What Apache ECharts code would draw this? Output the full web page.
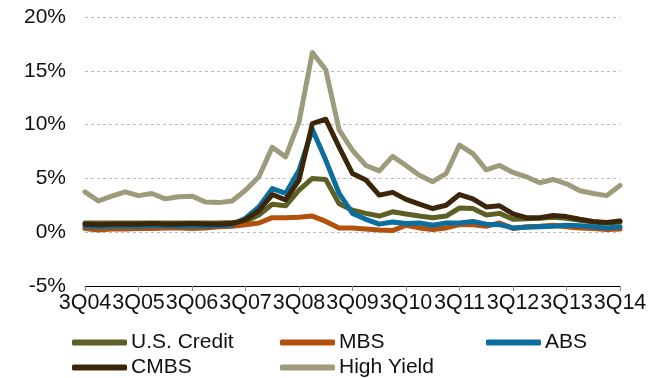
<!DOCTYPE html>
<html>
<head>
<meta charset="utf-8">
<script src="https://cdn.jsdelivr.net/npm/echarts@6/dist/echarts.min.js"></script>
<style>
  html, body { margin: 0; padding: 0; background: #fff; }
  #chart { width: 657px; height: 378px; }
</style>
</head>
<body>
<div id="chart"></div>
<script>
// quarters 3Q04 .. 3Q14
var quarters = [
  "3Q04", "4Q04", "1Q05", "2Q05", "3Q05", "4Q05", "1Q06", "2Q06", "3Q06", "4Q06",
  "1Q07", "2Q07", "3Q07", "4Q07", "1Q08", "2Q08", "3Q08", "4Q08", "1Q09", "2Q09",
  "3Q09", "4Q09", "1Q10", "2Q10", "3Q10", "4Q10", "1Q11", "2Q11", "3Q11", "4Q11",
  "1Q12", "2Q12", "3Q12", "4Q12", "1Q13", "2Q13", "3Q13", "4Q13", "1Q14", "2Q14",
  "3Q14"
];
var yTicks = [-5, 0, 5, 10, 15, 20];

var usCredit = [
  0.85, 0.85, 0.85, 0.85, 0.85, 0.85, 0.85, 0.85, 0.85, 0.85,
  0.85, 0.9, 1.0, 1.6, 2.6, 2.45, 3.9, 5.0, 4.9, 2.65,
  2.05, 1.75, 1.5, 1.9, 1.7, 1.5, 1.35, 1.5, 2.25, 2.2,
  1.6, 1.75, 1.2, 1.25, 1.3, 1.4, 1.3, 1.1, 0.95, 0.85,
  0.95
];
var mbs = [
  0.35, 0.2, 0.3, 0.3, 0.35, 0.35, 0.4, 0.4, 0.35, 0.4,
  0.5, 0.55, 0.7, 0.85, 1.35, 1.35, 1.4, 1.5, 1.0, 0.4,
  0.4, 0.3, 0.2, 0.15, 0.65, 0.4, 0.25, 0.4, 0.7, 0.7,
  0.55, 0.85, 0.35, 0.5, 0.55, 0.65, 0.5, 0.4, 0.35, 0.25,
  0.3
];
var abs = [
  0.55, 0.5, 0.55, 0.55, 0.55, 0.6, 0.6, 0.55, 0.6, 0.55,
  0.6, 0.7, 1.3, 2.35, 4.05, 3.6, 5.75, 9.55, 6.7, 3.6,
  1.75, 1.2, 0.75, 0.95, 0.8, 0.85, 0.65, 0.85, 0.85, 1.0,
  0.75, 0.7, 0.4, 0.45, 0.5, 0.55, 0.65, 0.6, 0.5, 0.4,
  0.5
];
var cmbs = [
  0.75, 0.7, 0.75, 0.75, 0.75, 0.8, 0.75, 0.75, 0.8, 0.75,
  0.75, 0.8, 1.15, 2.0, 3.5, 3.0, 4.85, 10.1, 10.5, 7.9,
  5.45, 4.85, 3.45, 3.7, 3.05, 2.6, 2.2, 2.5, 3.5, 3.1,
  2.35, 2.45, 1.7, 1.35, 1.35, 1.55, 1.45, 1.2, 1.0, 0.9,
  1.05
];
var highYield = [
  3.75, 2.9, 3.35, 3.75, 3.4, 3.6, 3.1, 3.3, 3.35, 2.8,
  2.75, 2.9, 3.9, 5.15, 7.9, 7.0, 10.25, 16.7, 15.1, 9.5,
  7.6, 6.2, 5.7, 7.05, 6.2, 5.3, 4.7, 5.45, 8.1, 7.3,
  5.8, 6.2, 5.55, 5.15, 4.6, 4.9, 4.5, 3.85, 3.6, 3.4,
  4.35
];

var seriesNames = ["U.S. Credit", "MBS", "ABS", "CMBS", "High Yield"];
var seriesData = [usCredit, mbs, abs, cmbs, highYield];
var colors = ["#5d5f24", "#b3500e", "#0c6d9f", "#3c2609", "#9d9b7b"];

var font = "'Liberation Sans', Arial, sans-serif";

// legend slots: 3 on first row, 2 on second
var legendLeft = [67, 275, 481, 67, 275];
var legendTop = [327, 327, 327, 352, 352];

var myChart = echarts.init(document.getElementById("chart"));

myChart.setOption({
  animation: false,
  color: colors,
  grid: { left: 85, right: 37, top: 17, bottom: 92, containLabel: false },
  legend: seriesNames.map(function (name, i) {
    return {
      data: [name],
      left: legendLeft[i],
      top: legendTop[i],
      icon: "roundRect",
      itemWidth: 55,
      itemHeight: 6,
      selectedMode: false,
      textStyle: { fontFamily: font, fontSize: 21, color: "#111", padding: [0, 0, 0, -1] }
    };
  }),
  xAxis: {
    type: "category",
    data: quarters,
    boundaryGap: false,
    axisLine: { onZero: false, lineStyle: { color: "#000", width: 1 } },
    axisTick: { interval: 3, length: 5, lineStyle: { color: "#888" } },
    axisLabel: {
      interval: 3,
      margin: 6,
      fontFamily: font,
      fontSize: 21.5,
      color: "#111"
    },
    splitLine: { show: false }
  },
  yAxis: {
    type: "value",
    min: yTicks[0],
    max: yTicks[yTicks.length - 1],
    interval: 5,
    axisLine: { show: false },
    axisTick: { show: false },
    axisLabel: {
      formatter: "{value}%",
      margin: 19,
      fontFamily: font,
      fontSize: 21,
      color: "#111"
    },
    splitLine: { lineStyle: { color: "#bbb", type: [3, 3], width: 1 } }
  },
  series: seriesNames.map(function (name, i) {
    return {
      name: name,
      type: "line",
      data: seriesData[i],
      symbol: "none",
      lineStyle: { width: 5, color: colors[i], join: "round", cap: "round" },
      itemStyle: { color: colors[i] }
    };
  })
});
</script>
</body>
</html>
